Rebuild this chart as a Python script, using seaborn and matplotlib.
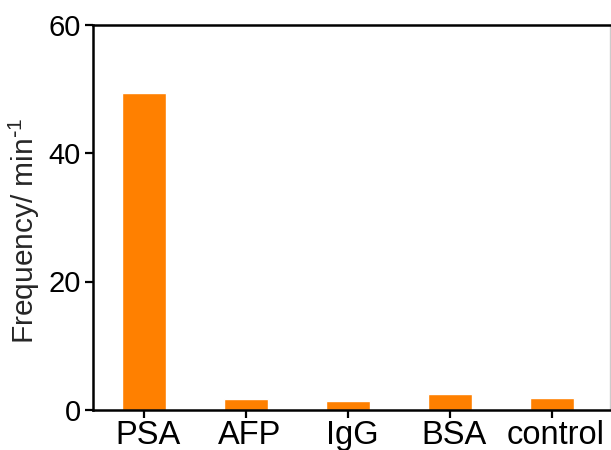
import matplotlib
matplotlib.use("Agg")
import matplotlib.pyplot as plt
import matplotlib.transforms as mtransforms
import seaborn as sns
import pandas as pd

# Measured response frequency for each analyte
categories = ["PSA", "AFP", "IgG", "BSA", "control"]
frequency = [49.3, 1.7, 1.45, 2.45, 1.9]
y_ticks = [0, 20, 40, 60]

sns.set_style("ticks")
plt.rcParams["font.family"] = ["Liberation Sans", "DejaVu Sans"]
plt.rcParams["mathtext.default"] = "regular"

df = pd.DataFrame({"analyte": categories, "frequency": frequency})

fig = plt.figure(figsize=(6.11, 4.5), dpi=100)
ax = fig.add_axes([93 / 611, 40 / 450, 517 / 611, 385.5 / 450])

sns.barplot(data=df, x="analyte", y="frequency", color="#FF8000",
            saturation=1, width=0.43, ax=ax)

ax.set_xlim(-0.5, 4.57)
ax.set_ylim(0, 60)
ax.set_yticks(y_ticks)
ax.set_xlabel("")
ax.set_ylabel(r"Frequency/ min$^{\text{-}1}$", fontsize=21.5)
ax.yaxis.set_label_coords(-0.098, 0.465)

for side in ["left", "bottom", "top"]:
    ax.spines[side].set_visible(True)
    ax.spines[side].set_linewidth(1.8)
    ax.spines[side].set_color("black")
ax.spines["right"].set_visible(True)
ax.spines["right"].set_color("#cccccc")
ax.spines["right"].set_linewidth(1.0)

ax.tick_params(axis="x", labelsize=23.5, length=6, width=1.6, pad=1, colors="black")
ax.tick_params(axis="y", labelsize=21, length=6, width=1.6, pad=3, colors="black")

# nudge category labels slightly to the right
shift = mtransforms.ScaledTranslation(4 / 100, 0, fig.dpi_scale_trans)
for lbl in ax.get_xticklabels():
    lbl.set_transform(lbl.get_transform() + shift)

fig.savefig("out.png", dpi=100)
